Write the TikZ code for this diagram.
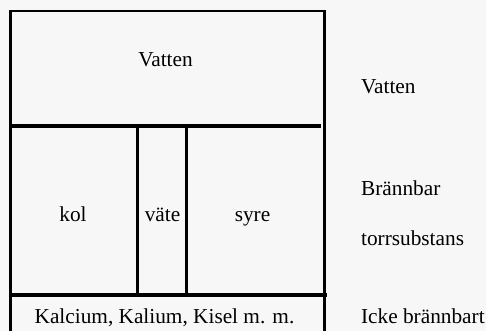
\documentclass[tikz,border=0pt]{standalone}
\usepackage{fontspec}
\setmainfont{Liberation Serif}
\definecolor{bg}{HTML}{F7F7F7}
\begin{document}
\begin{tikzpicture}[x=0.5pt,y=-0.5pt,
  lbl/.style={inner sep=0pt,font=\fontsize{10.65pt}{12pt}\selectfont,anchor=base},
  rlbl/.style={lbl,anchor=base west},
  frame/.style={line width=1.3pt,line cap=rect},
  divider/.style={line width=1.6pt}]
\fill[bg] (0,0) rectangle (486,331);
\useasboundingbox (0,0) rectangle (486,331);
% outer frame (open at bottom, cut by the page edge)
\coordinate (bl) at (10.5,334);
\coordinate (tl) at (10.5,11);
\coordinate (tr) at (324.5,11);
\coordinate (br) at (324.5,334);
\draw[frame] (bl) -- (tl) -- (tr) -- (br);
% horizontal dividers
\coordinate (h1a) at (10.5,126);
\coordinate (h1b) at (321,126);
\coordinate (h2a) at (10.5,295);
\coordinate (h2b) at (327,295);
\draw[divider] (h1a) -- (h1b);
\draw[divider] (h2a) -- (h2b);
% vertical dividers
\coordinate (v1a) at (137.7,127);
\coordinate (v1b) at (137.7,294);
\coordinate (v2a) at (186.3,127);
\coordinate (v2b) at (186.3,293.5);
\draw[divider] (v1a) -- (v1b);
\draw[divider] (v2a) -- (v2b);
% texts in the box
\node[lbl] (vatten) at (165.5,67) {Vatten};
\node[lbl] (kol) at (73,221.5) {kol};
\node[lbl] (vate) at (162.5,221.5) {väte};
\node[lbl] (syre) at (252.5,221.5) {syre};
\node[lbl] (kalk) at (164.5,323) {Kalcium, Kalium, Kisel m. m.};
% labels at right
\node[rlbl] (rvatten) at (360.7,93.5) {Vatten};
\node[rlbl] (rbrann) at (360.7,195.3) {Brännbar};
\node[rlbl] (rtorr) at (360.7,245.3) {torrsubstans};
\node[rlbl] (ricke) at (360.7,323.3) {Icke brännbart};
\end{tikzpicture}
\end{document}
